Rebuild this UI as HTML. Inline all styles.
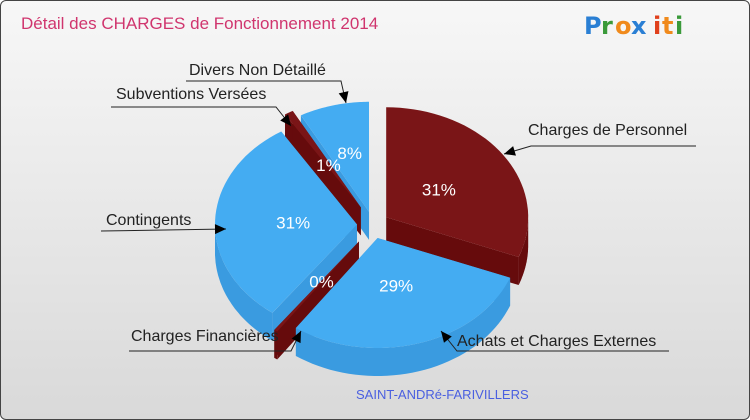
<!DOCTYPE html>
<html><head><meta charset="utf-8"><style>
body{margin:0;width:750px;height:420px;overflow:hidden;font-family:"Liberation Sans",sans-serif}
#c{position:absolute;left:0;top:0;width:748px;height:418px;border:1px solid #444;border-radius:6px;background:linear-gradient(#f7f7f7,#d9d9d9);overflow:hidden}
</style></head><body>
<div id="c">
<svg width="750" height="420" xmlns="http://www.w3.org/2000/svg" id="svg">
<text x="20" y="28" font-size="17" fill="#d0356e" font-family="Liberation Sans, sans-serif">Détail des CHARGES de Fonctionnement 2014</text>
<g font-family="DejaVu Sans, sans-serif" font-size="24" font-weight="bold">
<text x="583" y="33" fill="#2a7fd4">P</text><text x="600" y="33" fill="#3a9a3a">r</text><text x="614" y="33" fill="#f08a1c">o</text><text x="630" y="33" fill="#2a7fd4">x</text><text x="652" y="33" fill="#e0401c">i</text><text x="661" y="33" fill="#f08a1c">t</text><text x="674" y="33" fill="#3a9a3a">i</text>
</g>
<g id="pie"></g>
<g id="ann" fill="none" stroke="#222" stroke-width="1"></g>
<text x="355" y="398" font-size="13" fill="#4a5fe0">SAINT-ANDRé-FARIVILLERS</text>
</svg>
</div>
<script>
const categories=["Charges de Personnel","Achats et Charges Externes","Charges Financières","Contingents","Subventions Versées","Divers Non Détaillé"];
const values=[31,29,0.4,31,1,8];
const pctLabels=["31%","29%","0%","31%","1%","8%"];
const colors=["red","blue","red","blue","red","blue"];
const NS="http://www.w3.org/2000/svg";
const cx=372,cy=224,rx=142,ry=110,depth=28,expl=16;
const pal={red:{top:"#7a1517",side:"#660b0c"},blue:{top:"#44acf2",side:"#3a9be0"}};
const total=values.reduce((a,b)=>a+b,0);
const pie=document.getElementById('pie');
function pt(a,ox,oy,dy,r){r=r||1;return [cx+ox+rx*r*Math.sin(a),cy+oy+dy-ry*r*Math.cos(a)];}
let acc=0;const slices=[];
values.forEach((v,i)=>{const s=acc/total*2*Math.PI;acc+=v;const e=acc/total*2*Math.PI;const m=(s+e)/2;
const ex=v<2?expl*1.5:expl;slices.push({i,s,e,m,ox:ex*Math.sin(m),oy:-ex*0.85*Math.cos(m)});});
function mk(tag,attrs){const el=document.createElementNS(NS,tag);for(const k in attrs)el.setAttribute(k,attrs[k]);return el;}
function arc(s,e,ox,oy,dy){let d="";const n=40;for(let k=0;k<=n;k++){const a=s+(e-s)*k/n;const p=pt(a,ox,oy,dy);d+=(k?"L":"M")+p[0].toFixed(1)+","+p[1].toFixed(1);}return d;}
slices.slice().sort((a,b)=>Math.cos(b.m)-Math.cos(a.m)).forEach(sl=>{
const c=pal[colors[sl.i]];const g=mk('g',{});


const C=[cx+sl.ox,cy+sl.oy];
[sl.s,sl.e].forEach(a=>{const p=pt(a,sl.ox,sl.oy,0);g.appendChild(mk('path',{d:`M${C[0]},${C[1]}L${p[0]},${p[1]}L${p[0]},${p[1]+depth}L${C[0]},${C[1]+depth}Z`,fill:c.side}));});
const a0=Math.max(sl.s,Math.PI/2),a1=Math.min(sl.e,3*Math.PI/2);
if(a1>a0){const top=arc(a0,a1,sl.ox,sl.oy,0);let back="";const n=40;for(let k=n;k>=0;k--){const p=pt(a0+(a1-a0)*k/n,sl.ox,sl.oy,depth);back+="L"+p[0].toFixed(1)+","+p[1].toFixed(1);}
g.appendChild(mk('path',{d:top+back+"Z",fill:c.side}));}
g.appendChild(mk('path',{d:`M${C[0]},${C[1]}`+arc(sl.s,sl.e,sl.ox,sl.oy,0).replace(/^M/,"L")+"Z",fill:c.top}));
pie.appendChild(g);});
slices.forEach(sl=>{const r=values[sl.i]<2?0.45:(values[sl.i]<15?0.55:0.45);const p=pt(sl.m,sl.ox,sl.oy,0,r);
const t=mk('text',{x:p[0],y:p[1]+6,'font-size':17,fill:'#fff','text-anchor':'middle'});


t.textContent=pctLabels[sl.i];pie.appendChild(t);});
const ann=document.getElementById('ann');
const callouts=[
{t:categories[0],tx:527,ty:134,pts:"695,145 530,145 503,153",ax:503,ay:153},
{t:categories[1],tx:456,ty:345,pts:"668,350 456,350 440,330",ax:440,ay:330},
{t:categories[2],tx:130,ty:340,pts:"128,350 290,350 300,330",ax:300,ay:330},
{t:categories[3],tx:105,ty:224,pts:"100,230 225,228",ax:225,ay:228},
{t:categories[4],tx:115,ty:98,pts:"110,106 275,106 290,125",ax:290,ay:125},
{t:categories[5],tx:188,ty:74,pts:"185,80 340,80 345,102",ax:345,ay:102}];
callouts.forEach(c=>{ann.appendChild(mk('polyline',{points:c.pts}));
const ps=c.pts.split(' ').map(s=>s.split(',').map(Number));const a=ps[ps.length-2],b=ps[ps.length-1];
const ang=Math.atan2(b[1]-a[1],b[0]-a[0]);const L=11,W=5;
const bx=b[0]-L*Math.cos(ang),by=b[1]-L*Math.sin(ang);
ann.appendChild(mk('polygon',{points:`${b[0]},${b[1]} ${bx+W*Math.sin(ang)},${by-W*Math.cos(ang)} ${bx-W*Math.sin(ang)},${by+W*Math.cos(ang)}`,fill:'#000',stroke:'none'}));
const t=mk('text',{x:c.tx,y:c.ty,'font-size':16,fill:'#222',stroke:'none'});


t.textContent=c.t;ann.appendChild(t);});
</script>
</body></html>
